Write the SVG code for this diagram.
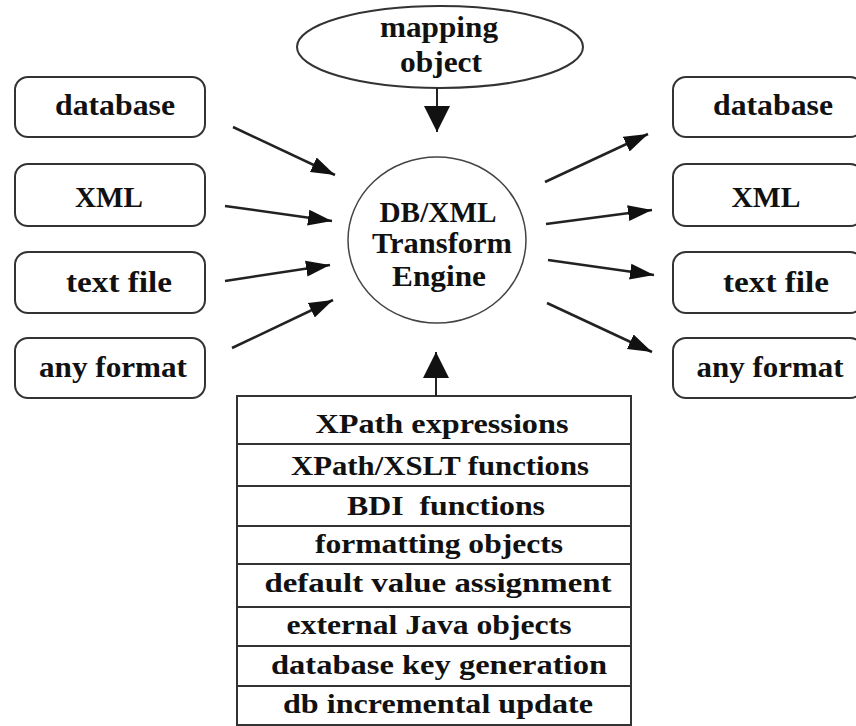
<svg xmlns="http://www.w3.org/2000/svg" width="856" height="726" viewBox="0 0 856 726">
<defs>
<marker id="ah" markerUnits="userSpaceOnUse" markerWidth="26" markerHeight="18" refX="24" refY="9" orient="auto">
<path d="M0,1 L24,9 L0,17 Z" fill="#111"/>
</marker>
<marker id="ahv" markerUnits="userSpaceOnUse" markerWidth="28" markerHeight="26" refX="26" refY="13" orient="auto">
<path d="M0,0 L26,13 L0,26 Z" fill="#111"/>
</marker>
<style>
.box{fill:#fff;stroke:#333;stroke-width:2}
.t{font-family:"Liberation Serif","Times New Roman",serif;font-weight:bold;font-size:30px;fill:#111;text-anchor:middle}
.tt{font-family:"Liberation Serif","Times New Roman",serif;font-weight:bold;font-size:27px;fill:#111;text-anchor:middle}
.c{stroke:#222;stroke-width:2.5;fill:none;marker-end:url(#ah)}
.v{stroke:#222;stroke-width:2;fill:none;marker-end:url(#ahv)}
.row{stroke:#333;stroke-width:2}
</style>
</defs>
<rect width="856" height="726" fill="#fff"/>

<g id="mapping-object">
<ellipse cx="440" cy="47" rx="143" ry="41" class="box"/>
<text class="t" x="439" y="37" textLength="118" lengthAdjust="spacingAndGlyphs">mapping</text>
<text class="t" x="441" y="72" textLength="82" lengthAdjust="spacingAndGlyphs">object</text>
</g>

<g id="engine">
<ellipse cx="437" cy="240" rx="89" ry="83" fill="#fff" stroke="#444" stroke-width="1.5"/>
<text class="t" x="438" y="222" textLength="117" lengthAdjust="spacingAndGlyphs">DB/XML</text>
<text class="t" x="442" y="253" textLength="140" lengthAdjust="spacingAndGlyphs">Transform</text>
<text class="t" x="439" y="286" textLength="94" lengthAdjust="spacingAndGlyphs">Engine</text>
</g>

<g id="in-database">
<rect x="15" y="77" width="190" height="60" rx="13" class="box"/>
<text class="t" x="115" y="115" textLength="120" lengthAdjust="spacingAndGlyphs">database</text>
</g>
<g id="in-xml">
<rect x="15" y="164" width="190" height="62" rx="13" class="box"/>
<text class="t" x="109" y="207" textLength="68" lengthAdjust="spacingAndGlyphs">XML</text>
</g>
<g id="in-textfile">
<rect x="15" y="252" width="190" height="61" rx="13" class="box"/>
<text class="t" x="119" y="292" textLength="106" lengthAdjust="spacingAndGlyphs">text file</text>
</g>
<g id="in-anyformat">
<rect x="15" y="338" width="190" height="60" rx="13" class="box"/>
<text class="t" x="113" y="377" textLength="148" lengthAdjust="spacingAndGlyphs">any format</text>
</g>

<g id="out-database">
<rect x="673" y="77" width="190" height="60" rx="13" class="box"/>
<text class="t" x="773" y="115" textLength="120" lengthAdjust="spacingAndGlyphs">database</text>
</g>
<g id="out-xml">
<rect x="673" y="164" width="190" height="62" rx="13" class="box"/>
<text class="t" x="766" y="207" textLength="69" lengthAdjust="spacingAndGlyphs">XML</text>
</g>
<g id="out-textfile">
<rect x="673" y="252" width="190" height="61" rx="13" class="box"/>
<text class="t" x="776" y="292" textLength="106" lengthAdjust="spacingAndGlyphs">text file</text>
</g>
<g id="out-anyformat">
<rect x="673" y="338" width="190" height="60" rx="13" class="box"/>
<text class="t" x="770" y="377" textLength="147" lengthAdjust="spacingAndGlyphs">any format</text>
</g>

<g id="functions">
<rect x="237" y="396" width="394" height="329" fill="#fff" stroke="#333" stroke-width="2"/>
<line class="row" x1="237" y1="444" x2="631" y2="444"/>
<line class="row" x1="237" y1="486" x2="631" y2="486"/>
<line class="row" x1="237" y1="526" x2="631" y2="526"/>
<line class="row" x1="237" y1="564" x2="631" y2="564"/>
<line class="row" x1="237" y1="607" x2="631" y2="607"/>
<line class="row" x1="237" y1="646" x2="631" y2="646"/>
<line class="row" x1="237" y1="686" x2="631" y2="686"/>
<text class="tt" x="442" y="433" textLength="253" lengthAdjust="spacingAndGlyphs">XPath expressions</text>
<text class="tt" x="440" y="475" textLength="298" lengthAdjust="spacingAndGlyphs">XPath/XSLT functions</text>
<text class="tt" x="446" y="515" textLength="198" lengthAdjust="spacingAndGlyphs" xml:space="preserve">BDI  functions</text>
<text class="tt" x="439" y="553" textLength="248" lengthAdjust="spacingAndGlyphs">formatting objects</text>
<text class="tt" x="438" y="592" textLength="347" lengthAdjust="spacingAndGlyphs">default value assignment</text>
<text class="tt" x="429" y="634" textLength="285" lengthAdjust="spacingAndGlyphs">external Java objects</text>
<text class="tt" x="439" y="674" textLength="336" lengthAdjust="spacingAndGlyphs">database key generation</text>
<text class="tt" x="438" y="713" textLength="310" lengthAdjust="spacingAndGlyphs">db incremental update</text>
</g>

<g id="connectors">
<line class="v" x1="437" y1="88" x2="437" y2="132"/>
<line class="v" x1="436" y1="396" x2="436" y2="352"/>
<line class="c" x1="233" y1="127" x2="335" y2="175"/>
<line class="c" x1="225" y1="206" x2="332" y2="221"/>
<line class="c" x1="225" y1="281" x2="330" y2="265"/>
<line class="c" x1="232" y1="348" x2="333" y2="300"/>
<line class="c" x1="545" y1="182" x2="648" y2="134"/>
<line class="c" x1="546" y1="224" x2="652" y2="210"/>
<line class="c" x1="548" y1="260" x2="654" y2="275"/>
<line class="c" x1="547" y1="303" x2="652" y2="352"/>
</g>
</svg>
